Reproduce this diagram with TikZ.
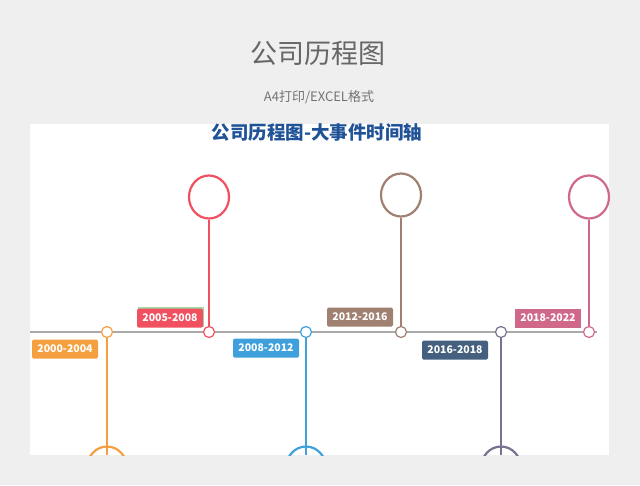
\documentclass[tikz,border=0pt]{standalone}
\usepackage{fontspec}
\setmainfont{Noto Sans CJK SC}
\usetikzlibrary{positioning, shapes.geometric}
\definecolor{bggray}{HTML}{EFEFEF}
\definecolor{ctorange}{HTML}{F5A040}
\definecolor{ctred}{HTML}{F0505F}
\definecolor{ctblue}{HTML}{3FA0DC}
\definecolor{ctbrown}{HTML}{A08070}
\definecolor{ctnavy}{HTML}{45607F}
\definecolor{ctpink}{HTML}{D0688A}
\definecolor{ctpurple}{HTML}{7A7090}
\definecolor{ctline}{HTML}{AAAAAA}
\definecolor{ttblue}{HTML}{1F5296}
\tikzset{dot/.style={draw, circle, fill=white, line width=1.2pt, minimum size=11pt, inner sep=0pt}}
\tikzset{bigring/.style={draw, ellipse, line width=2.2pt, minimum width=40pt, minimum height=43pt, inner sep=0pt}}
\tikzset{yearbox/.style={rounded corners=1.5pt, text=white, font=\bfseries\fontsize{10.5}{12}\selectfont, minimum width=66pt, minimum height=19pt, inner sep=0pt}}
\begin{document}
\begin{tikzpicture}[x=1pt, y=-1pt]
        \useasboundingbox (0,0) rectangle (640,485);
        \fill[bggray] (0,0) rectangle (640,485);
        \node[text=black!60, font=\fontsize{27}{30}\selectfont] (title) at (318,53) {公司历程图};
        \node[text=black!55, font=\fontsize{13}{15}\selectfont] (subtitle) at (319,97) {A4打印/EXCEL格式};
        \fill[white] (30,124) rectangle (609,455);
        \node[text=ttblue, font=\bfseries\fontsize{18.5}{20}\selectfont] (head) at (317,133) {公司历程图-大事件时间轴};

        \coordinate (Ls) at (30,332);
        \coordinate (Le) at (597,332);
        \draw[ctline, line width=1.2pt] (Ls) -- (Le);

        \begin{scope}
        \clip (30,124) rectangle (609,455);
        \node[bigring, draw=ctorange] (R1) at (107,468) {};
        \node[bigring, draw=ctblue] (R3) at (306,468) {};
        \node[bigring, draw=ctpurple] (R5) at (501,468) {};
        \end{scope}
        \node[bigring, draw=ctred] (R2) at (209,197) {};
        \node[bigring, draw=ctbrown] (R4) at (401,195) {};
        \node[bigring, draw=ctpink] (R6) at (589,197) {};

        \node[dot, draw=ctorange] (D1) at (107,332) {};
        \node[dot, draw=ctred] (D2) at (209,332) {};
        \node[dot, draw=ctblue] (D3) at (306,332) {};
        \node[dot, draw=ctbrown] (D4) at (401,332) {};
        \node[dot, draw=ctpurple] (D5) at (501,332) {};
        \node[dot, draw=ctpink] (D6) at (589,332) {};

        \draw[ctorange, line width=1.2pt] (D1) -- (107,455);
        \draw[ctred, line width=1.2pt] (D2) -- (R2);
        \draw[ctblue, line width=1.2pt] (D3) -- (306,455);
        \draw[ctbrown, line width=1.2pt] (D4) -- (R4);
        \draw[ctpurple, line width=1.2pt] (D5) -- (501,455);
        \draw[ctpink, line width=1.2pt] (D6) -- (R6);

        \node[yearbox, fill=ctorange] (Y1) at (65,349) {2000-2004};
        \fill[green!40!gray!50] (137.5,307) rectangle (204,327);
        \node[yearbox, fill=ctred] (Y2) at (170,318) {2005-2008};
        \node[yearbox, fill=ctblue] (Y3) at (266,348) {2008-2012};
        \node[yearbox, fill=ctbrown] (Y4) at (360,317) {2012-2016};
        \node[yearbox, fill=ctnavy] (Y5) at (455,350) {2016-2018};
        \node[yearbox, fill=ctpink, rounded corners=0pt] (Y6) at (548,318) {2018-2022};
\end{tikzpicture}
\end{document}
